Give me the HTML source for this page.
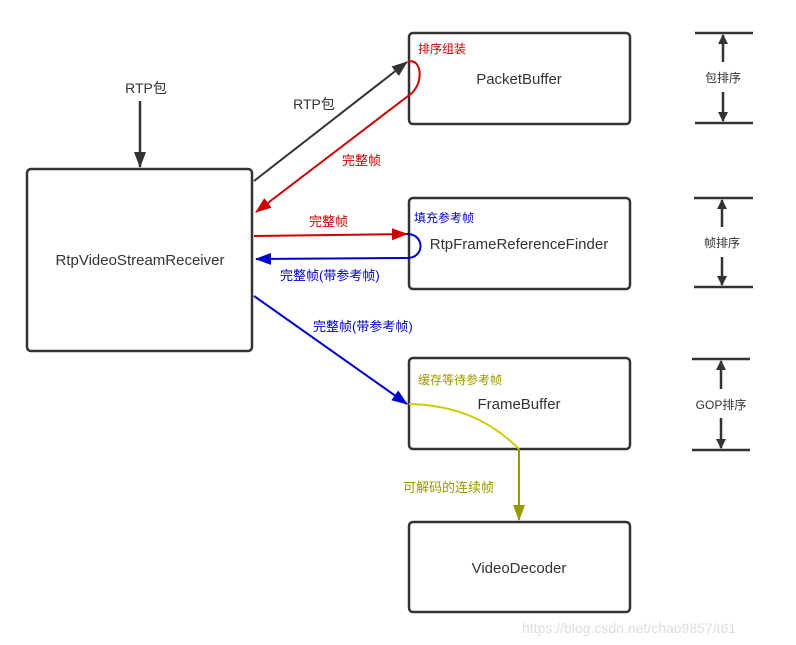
<!DOCTYPE html>
<html><head><meta charset="utf-8"><style>
html,body{margin:0;padding:0;background:#fff;}
svg{display:block;}
text{font-family:"Liberation Sans","Noto Sans CJK SC",sans-serif;}
</style></head><body>
<svg width="796" height="645" viewBox="0 0 796 645" xmlns="http://www.w3.org/2000/svg">
<defs>
<marker id="ak" markerWidth="10" markerHeight="10" refX="9" refY="5" orient="auto" markerUnits="userSpaceOnUse"><path d="M0,0 L10,5 L0,10 Z" fill="#333"/></marker>
<marker id="ak2" markerWidth="16" markerHeight="12" refX="15" refY="6" orient="auto" markerUnits="userSpaceOnUse"><path d="M0,0 L16,6 L0,12 Z" fill="#333"/></marker>
<marker id="ar" markerWidth="16" markerHeight="12" refX="15" refY="6" orient="auto" markerUnits="userSpaceOnUse"><path d="M0,0 L16,6 L0,12 Z" fill="#c00"/></marker>
<marker id="ab" markerWidth="16" markerHeight="12" refX="15" refY="6" orient="auto" markerUnits="userSpaceOnUse"><path d="M0,0 L16,6 L0,12 Z" fill="#00c"/></marker>
<marker id="ay" markerWidth="16" markerHeight="12" refX="15" refY="6" orient="auto" markerUnits="userSpaceOnUse"><path d="M0,0 L16,6 L0,12 Z" fill="#999900"/></marker>
</defs>
<g fill="#fff" stroke="#333" stroke-width="2.5">
<rect x="27" y="169" width="225" height="182" rx="4"/>
<rect x="409" y="33" width="221" height="91" rx="4"/>
<rect x="409" y="198" width="221" height="91" rx="4"/>
<rect x="409" y="358" width="221" height="91" rx="4"/>
<rect x="409" y="522" width="221" height="90" rx="4"/>
</g>
<g font-size="15" fill="#333" text-anchor="middle">
<text x="140" y="265">RtpVideoStreamReceiver</text>
<text x="519" y="84">PacketBuffer</text>
<text x="519" y="249">RtpFrameReferenceFinder</text>
<text x="519" y="409">FrameBuffer</text>
<text x="519" y="573">VideoDecoder</text>
<text x="146" y="93" font-size="14">RTP包</text>
<text x="314" y="109" font-size="14">RTP包</text>
</g>
<line x1="140" y1="101" x2="140" y2="167" stroke="#333" stroke-width="2.5" marker-end="url(#ak2)"/>
<line x1="254" y1="181" x2="407" y2="62" stroke="#333" stroke-width="2" marker-end="url(#ak2)"/>
<path d="M408,62 C420,57 425,80 412,93 L256,212" fill="none" stroke="#c00" stroke-width="2" marker-end="url(#ar)"/>
<line x1="254" y1="236" x2="407" y2="234" stroke="#c00" stroke-width="2" marker-end="url(#ar)"/>
<path d="M407,234 C425,234 425,258 407,258 L256,259" fill="none" stroke="#00c" stroke-width="2" marker-end="url(#ab)"/>
<line x1="254" y1="296" x2="407" y2="404" stroke="#00c" stroke-width="2" marker-end="url(#ab)"/>
<path d="M409,404 C455,405 490,420 519,449" fill="none" stroke="#cccc00" stroke-width="2"/>
<line x1="519" y1="449" x2="519" y2="520" stroke="#999900" stroke-width="2" marker-end="url(#ay)"/>
<g font-size="13">
<text x="342" y="165" fill="#c00">完整帧</text>
<text x="309" y="226" fill="#c00">完整帧</text>
<text x="280" y="280" fill="#00c">完整帧(带参考帧)</text>
<text x="313" y="331" fill="#00c">完整帧(带参考帧)</text>
<text x="418" y="53" fill="#c00" font-size="12">排序组装</text>
<text x="414" y="222" fill="#00c" font-size="12">填充参考帧</text>
<text x="418" y="384" fill="#999900" font-size="12">缓存等待参考帧</text>
<text x="403" y="492" fill="#999900">可解码的连续帧</text>
</g>
<g stroke="#333" stroke-width="2.5">
<line x1="695" y1="33" x2="753" y2="33"/><line x1="695" y1="123" x2="753" y2="123"/>
<line x1="694" y1="198" x2="753" y2="198"/><line x1="694" y1="287" x2="753" y2="287"/>
<line x1="692" y1="359" x2="750" y2="359"/><line x1="692" y1="450" x2="750" y2="450"/>
<line x1="723" y1="62" x2="723" y2="35" marker-end="url(#ak)"/>
<line x1="723" y1="92" x2="723" y2="121" marker-end="url(#ak)"/>
<line x1="722" y1="227" x2="722" y2="200" marker-end="url(#ak)"/>
<line x1="722" y1="257" x2="722" y2="285" marker-end="url(#ak)"/>
<line x1="721" y1="389" x2="721" y2="361" marker-end="url(#ak)"/>
<line x1="721" y1="418" x2="721" y2="448" marker-end="url(#ak)"/>
</g>
<g font-size="12" fill="#333" text-anchor="middle">
<text x="723" y="82">包排序</text>
<text x="722" y="247">帧排序</text>
<text x="721" y="409">GOP排序</text>
</g>
<text x="522" y="633" font-size="14" fill="#ddd">https://blog.csdn.net/chao9857/t61</text>
</svg>
</body></html>
